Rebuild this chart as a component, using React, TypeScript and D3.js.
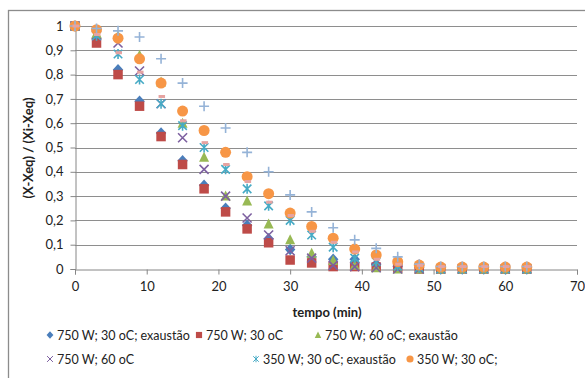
import React, { useEffect, useRef } from 'react';
import * as d3 from 'd3';

// tempo (min)
const times = [0, 3, 6, 9, 12, 15, 18, 21, 24, 27, 30, 33, 36, 39, 42, 45, 48, 51, 54, 57, 60, 63];

const s750_30_ex = [1, 0.95, 0.82, 0.69, 0.56, 0.445, 0.345, 0.25, 0.18, 0.125, 0.08, 0.05, 0.04, 0.04, 0.02, 0.01, 0.005, 0, 0, 0, 0, 0];
const s750_30 = [1, 0.93, 0.8, 0.67, 0.545, 0.43, 0.33, 0.235, 0.165, 0.108, 0.037, 0.025, 0.01, 0.01, 0.008, 0.005, 0, 0, 0, 0, 0, 0];
const s750_60_ex = [1, 0.97, 0.96, 0.88, 0.77, 0.6, 0.46, 0.3, 0.28, 0.185, 0.12, 0.065, 0.035, 0.015, 0.005, 0, 0, 0, 0, 0, 0, 0];
const s750_60 = [1, 0.96, 0.93, 0.815, 0.68, 0.54, 0.41, 0.3, 0.21, 0.14, 0.075, 0.045, 0.015, 0.01, 0.005, 0, 0, 0, 0, 0, 0, 0];
const s350_30_ex = [1, 0.96, 0.885, 0.78, 0.68, 0.59, 0.5, 0.41, 0.33, 0.26, 0.2, 0.14, 0.09, 0.045, 0.03, 0.012, 0.005, 0, 0, 0, 0, 0];
const s350_30 = [1, 0.985, 0.95, 0.865, 0.765, 0.65, 0.57, 0.48, 0.38, 0.31, 0.23, 0.175, 0.127, 0.082, 0.058, 0.03, 0.016, 0.008, 0.008, 0.008, 0.008, 0.008];
const s7 = [1, 0.99, 0.98, 0.955, 0.865, 0.765, 0.67, 0.58, 0.48, 0.4, 0.305, 0.235, 0.17, 0.12, 0.085, 0.05, 0.02, 0.01, 0.01, 0.01, 0.01, 0.01];
const s8 = [1, 0.965, 0.89, 0.81, 0.71, 0.61, 0.52, 0.43, 0.36, 0.275, 0.22, 0.155, 0.11, 0.07, 0.04, 0.02, 0.015, 0.01, 0.01, 0.01, 0.01, 0.01];

const seriesNames = [
  '750 W; 30 oC; exaustão',
  '750 W; 30 oC',
  '750 W; 60 oC; exaustão',
  '750 W; 60 oC',
  '350 W; 30 oC; exaustão',
  '350 W; 30 oC;',
  '',
  ''
];
const seriesValues = [s750_30_ex, s750_30, s750_60_ex, s750_60, s350_30_ex, s350_30, s7, s8];
const seriesColors = ['#4a7ebb', '#be4b48', '#98b954', '#7d60a0', '#46aac5', '#f79646', '#95b3d7', '#e6a3a1'];
const seriesMarkers = ['diamond', 'square', 'triangle', 'x', 'star', 'circle', 'plus', 'dash'];

const xTicks = [0, 10, 20, 30, 40, 50, 60, 70];
const yTicks = [0, 0.1, 0.2, 0.3, 0.4, 0.5, 0.6, 0.7, 0.8, 0.9, 1];

const FONT = 'Lato, "Liberation Sans", sans-serif';

// marker path centred on 0,0; k scales it down for the legend
function markerPath(kind: string, k: number) {
  const r = 5 * k;
  switch (kind) {
    case 'diamond':
      return `M0,${-r * 1.15}L${r * 1.05},0L0,${r * 1.15}L${-r * 1.05},0Z`;
    case 'square':
      return `M${-r * 0.95},${-r * 0.95}h${r * 1.9}v${r * 1.9}h${-r * 1.9}Z`;
    case 'triangle':
      return `M0,${-r * 1.1}L${r},${r * 0.9}L${-r},${r * 0.9}Z`;
    case 'circle':
      return d3.symbol(d3.symbolCircle, Math.PI * (r * 1.1) * (r * 1.1))() as string;
    case 'x':
      return `M${-r * 0.9},${-r * 0.9}L${r * 0.9},${r * 0.9}M${r * 0.9},${-r * 0.9}L${-r * 0.9},${r * 0.9}`;
    case 'star':
      return `M${-r * 0.85},${-r * 0.85}L${r * 0.85},${r * 0.85}M${r * 0.85},${-r * 0.85}L${-r * 0.85},${r * 0.85}M0,${-r}L0,${r}`;
    case 'plus':
      return `M${-r},0L${r},0M0,${-r}L0,${r}`;
    case 'dash':
      return `M${-r * 0.5},${-r * 0.3}h${r * 1.3}v${r * 0.6}h${-r * 1.3}Z`;
    default:
      return '';
  }
}
const isStroked = (kind: string) => kind === 'x' || kind === 'star' || kind === 'plus';

// legend slots as seen in the picture: [marker x, row y]
const legendSlots = [[50, 335], [199, 335], [318, 335], [50, 359], [256, 359], [410, 359]];

const App = () => {
  const svgRef = useRef<SVGSVGElement>(null);
  const width = 585;
  const height = 378;
  const margin = { left: 75, right: 8, top: 26, bottom: 109 };

  useEffect(() => {
    const svg = d3.select(svgRef.current);
    svg.selectAll('*').remove();

    const xScale = d3.scaleLinear().domain([0, 70]).range([margin.left, width - margin.right]);
    const yScale = d3.scaleLinear().domain([0, 1]).range([height - margin.bottom, margin.top]);

    // chart frame
    svg.append('rect')
      .attr('x', 8.5).attr('y', 10.5)
      .attr('width', 700).attr('height', 500)
      .attr('fill', '#fff')
      .attr('stroke', '#8c8c8c')
      .attr('stroke-width', 1.3);

    // gridlines
    svg.append('g')
      .selectAll('line')
      .data(yTicks.filter(d => d > 0))
      .enter()
      .append('line')
      .attr('x1', margin.left).attr('x2', width - margin.right)
      .attr('y1', d => Math.round(yScale(d)) + 0.5)
      .attr('y2', d => Math.round(yScale(d)) + 0.5)
      .attr('stroke', '#8e8e8e').attr('stroke-width', 1);

    const xAxis = d3.axisBottom(xScale).tickValues(xTicks).tickSize(5).tickPadding(7).tickFormat(d3.format('d'));
    const yAxis = d3.axisLeft(yScale).tickValues(yTicks).tickSize(5).tickPadding(7)
      .tickFormat(d => (d === 0 || d === 1) ? String(d) : d3.format('.1f')(d as number).replace('.', ','));

    const gx = svg.append('g')
      .attr('transform', `translate(0, ${Math.round(yScale(0)) + 0.5})`)
      .call(xAxis);
    const gy = svg.append('g')
      .attr('transform', `translate(${margin.left + 0.5}, 0)`)
      .call(yAxis);
    [gx, gy].forEach(g => {
      g.select('.domain').attr('stroke', '#868686');
      g.selectAll('.tick line').attr('stroke', '#868686');
      g.selectAll('.tick text').attr('fill', '#222').style('font-family', FONT).style('font-size', '13px');
    });

    // points
    seriesValues.forEach((vals, i) => {
      const kind = seriesMarkers[i];
      const stroked = isStroked(kind);
      svg.append('g')
        .selectAll('path')
        .data(times.map((t, j) => ({ t, v: vals[j] })))
        .enter()
        .append('path')
        .attr('transform', d => `translate(${xScale(d.t)}, ${yScale(d.v)})`)
        .attr('d', markerPath(kind, 1))
        .attr('fill', stroked ? 'none' : seriesColors[i])
        .attr('stroke', stroked ? seriesColors[i] : 'none')
        .attr('stroke-width', stroked ? 1.6 : 0);
    });

    // axis titles
    svg.append('text')
      .attr('x', (margin.left + width - margin.right) / 2 + 1)
      .attr('y', 317)
      .attr('text-anchor', 'middle')
      .style('font-family', FONT).style('font-size', '13px').style('font-weight', 'bold')
      .attr('fill', '#222')
      .text('tempo (min)');

    svg.append('text')
      .attr('transform', 'rotate(-90)')
      .attr('x', -148)
      .attr('y', 33)
      .attr('text-anchor', 'middle')
      .style('font-family', FONT).style('font-size', '13px').style('font-weight', 'bold')
      .attr('fill', '#222')
      .text('(X-Xeq) / (Xi-Xeq)');

    // legend (two visible rows)
    seriesNames.slice(0, 6).forEach((name, i) => {
      const kind = seriesMarkers[i];
      const stroked = isStroked(kind);
      const [lx, ly] = legendSlots[i];
      const g = svg.append('g').attr('transform', `translate(${lx}, ${ly})`);
      g.append('path')
        .attr('d', markerPath(kind, 0.65))
        .attr('fill', stroked ? 'none' : seriesColors[i])
        .attr('stroke', stroked ? seriesColors[i] : 'none')
        .attr('stroke-width', stroked ? 1 : 0);
      g.append('text')
        .attr('x', 7)
        .attr('y', 4.5)
        .style('font-family', FONT).style('font-size', '12.5px')
        .attr('fill', '#222')
        .text(name);
    });
  }, []);

  return (
    <svg ref={svgRef} width={width} height={height}
      style={{ position: 'absolute', left: 0, top: 0, background: '#fff' }}></svg>
  );
};

export default App;
